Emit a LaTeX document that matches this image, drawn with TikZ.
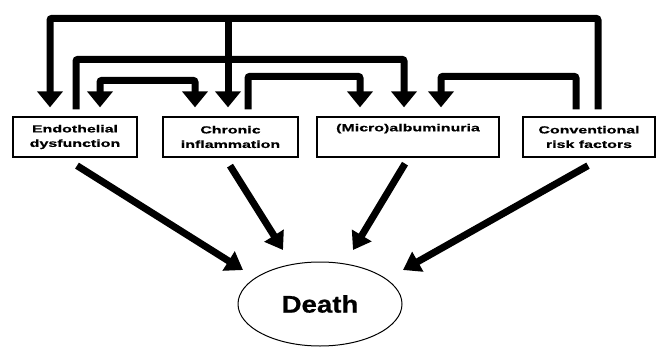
\documentclass[tikz,border=0pt]{standalone}
\usepackage{fontspec}
\usetikzlibrary{arrows.meta,shapes.geometric,calc}
\newfontfamily\boxfont[FakeStretch=1.55,FakeBold=0.6]{Liberation Sans}
\newfontfamily\deathfont[FakeStretch=1.15,FakeBold=0.8]{Liberation Sans}
\begin{document}
\begin{tikzpicture}[x=1pt,y=-1pt,
  box/.style={draw=black,line width=1.3pt,minimum height=40pt,inner sep=0pt,align=center,
    font=\boxfont\bfseries\fontsize{10.3}{14.5}\selectfont},
  flow/.style={line width=7pt,rounded corners=2pt,-{Triangle[width=25pt,length=16pt]},shorten >=9pt},
  diag/.style={line width=7pt,-{Triangle[width=22pt,length=17pt]}}]
\useasboundingbox (0,0) rectangle (658,348);
\node[box,minimum width=124pt] (endo) at (75,137) {Endothelial\\dysfunction};
\node[box,minimum width=135pt] (chron) at (230.5,137) {Chronic\\inflammation};
\node[box,minimum width=182pt] (alb) at (408,137) {(Micro)albuminuria\\\strut};
\node[box,minimum width=132pt] (conv) at (589,137) {Conventional\\risk factors};
\node[draw=black,line width=1pt,ellipse,minimum width=164pt,minimum height=84pt,inner sep=0pt,
  font=\deathfont\bfseries\fontsize{24}{28}\selectfont] (death) at (320,304) {Death};
% line 1: conventional -> endothelial, with branch to chronic
\draw[flow,shorten <=7pt] ([xshift=9pt]conv.north) -- ++(0,-98) -| ([xshift=-25pt]endo.north);
\draw[flow] ([xshift=-2.5pt,yshift=98pt]chron.north) -- ([xshift=-2.5pt]chron.north);
% line 2: endothelial -> albuminuria
\draw[flow,shorten <=7pt] ([xshift=1pt]endo.north) -- ++(0,-57) -| ([xshift=-4pt]alb.north);
% line 3: endothelial <-> chronic
\draw[flow,{Triangle[width=25pt,length=16pt]}-{Triangle[width=25pt,length=16pt]},shorten <=9pt]
  ([xshift=25pt]endo.north) -- ++(0,-36) -| ([xshift=-35.5pt]chron.north);
% line 4: chronic -> albuminuria
\draw[flow,shorten <=7pt] ([xshift=17.5pt]chron.north) -- ++(0,-40) -| ([xshift=-48pt]alb.north);
% line 5: conventional -> albuminuria
\draw[flow,shorten <=7pt] ([xshift=-13pt]conv.north) -- ++(0,-40) -| ([xshift=33pt]alb.north);
% diagonals to death
\draw[diag] ($(endo.south)+(2,8)$) -- ($(death.center)+(-77,-34)$);
\draw[diag] ($(chron.south)+(-0.5,8)$) -- ($(death.center)+(-37,-54)$);
\draw[diag] ($(alb.south)+(-3,6)$) -- ($(death.center)+(33,-54)$);
\draw[diag] ($(conv.south)+(-1,8)$) -- ($(death.center)+(83,-34)$);
\end{tikzpicture}
\end{document}
